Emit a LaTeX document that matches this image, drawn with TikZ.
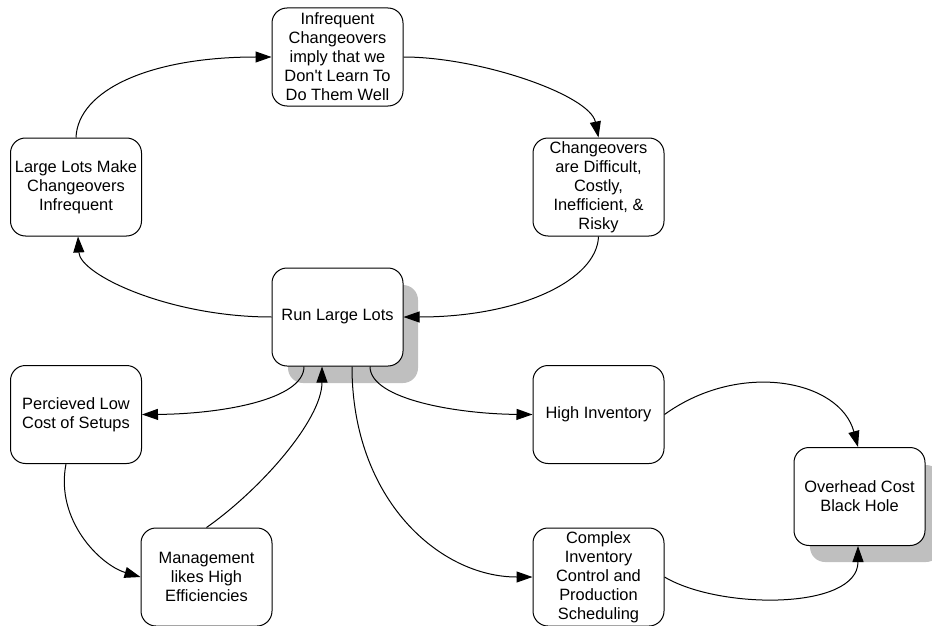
\documentclass[tikz,border=0pt]{standalone}
\usepackage{fontspec}
\setmainfont{Liberation Sans}[Ligatures=TeXOff]
\usetikzlibrary{arrows.meta,calc}
\begin{document}
\begin{tikzpicture}[x=1pt,y=-1pt,
  box/.style={draw=black,line width=1pt,fill=white,rounded corners=15pt,minimum width=131pt,minimum height=98pt,align=center,inner sep=0pt,font=\fontsize{16.4}{19}\selectfont},
  shadowbox/.style={fill=black!25,rounded corners=15pt},
  conn/.style={line width=1pt,-{Triangle[length=16pt,width=11pt]}}]
\useasboundingbox (0,0) rectangle (932,626);
% shadows
\fill[shadowbox] (288,285) rectangle (418,383);
\fill[shadowbox] (810,465) rectangle (941,562);
% nodes
\node[box] (inf) at (337.5,57) {Infrequent\\Changeovers\\imply that we\\Don't Learn To\\Do Them Well};
\node[box] (large) at (76,187) {Large Lots Make\\Changeovers\\Infrequent};
\node[box] (chg) at (598.5,187) {Changeovers\\are Difficult,\\Costly,\\Inefficient, \&\\Risky};
\node[box] (run) at (337.5,317) {Run Large Lots};
\node[box] (perc) at (76,414.5) {Percieved Low\\Cost of Setups};
\node[box] (high) at (598.5,414.5) {High Inventory};
\node[box] (over) at (859.5,496.5) {Overhead Cost\\Black Hole};
\node[box] (mgmt) at (206.5,577) {Management\\likes High\\Efficiencies};
\node[box] (cplx) at (598.5,577) {Complex\\Inventory\\Control and\\Production\\Scheduling};
% connectors
\draw[conn] (large.north) .. controls (78,90) and (150,57) .. (inf.west);
\draw[conn] (inf.east) .. controls (480,57) and (590,95) .. (chg.north);
\draw[conn] (chg.south) .. controls (597,280) and (520,317) .. (run.east);
\draw[conn] (run.west) .. controls (170,317) and (80,275) .. ([xshift=2pt]large.south);
\draw[conn] ([xshift=-33.5pt]run.south) .. controls (304,400) and (220,414) .. (perc.east);
\draw[conn] (mgmt.north) .. controls (260,490) and (322,420) .. ([xshift=-15.5pt]run.south);
\draw[conn] ([xshift=-10pt]perc.south) .. controls (55,520) and (100,565) .. (mgmt.west);
\draw[conn] ([xshift=14.5pt]run.south) .. controls (352,500) and (440,577) .. (cplx.west);
\draw[conn] ([xshift=32.5pt]run.south) .. controls (370,400) and (460,414) .. (high.west);
\draw[conn] (high.east) .. controls (740,360) and (840,380) .. ([xshift=-1.5pt]over.north);
\draw[conn] (cplx.east) .. controls (720,610) and (858,610) .. ([xshift=-1.5pt]over.south);
\end{tikzpicture}
\end{document}
